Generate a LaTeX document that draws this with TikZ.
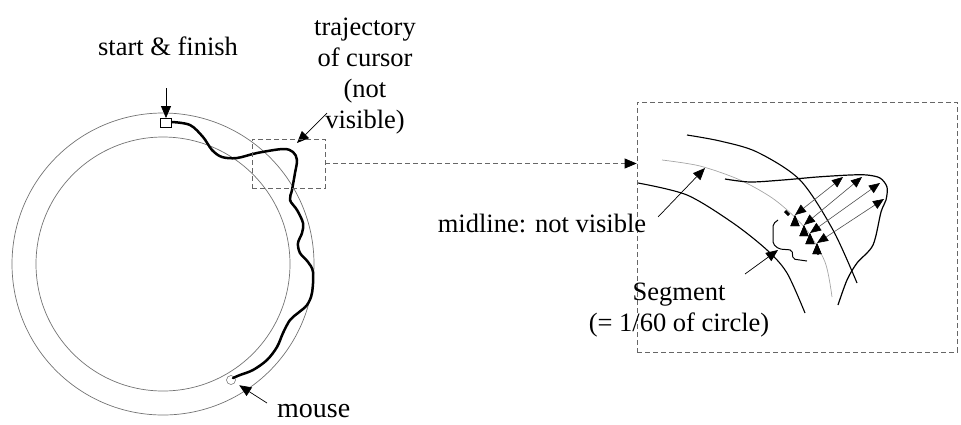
\documentclass[tikz,border=0pt]{standalone}
\usepackage{fontspec}
\setmainfont{Liberation Serif}
\usetikzlibrary{arrows.meta}

\tikzset{
  ring/.style={draw=black!55, line width=0.7pt},
  track/.style={line width=2.5pt, line join=round, line cap=round},
  thintrack/.style={line width=1.2pt, line join=round},
  arcline/.style={line width=1.1pt},
  midarc/.style={draw=black!35, line width=0.7pt},
  lbl/.style={font=\fontsize{26.5}{31}\selectfont, inner sep=0pt},
  pointer/.style={-{Triangle[length=12pt,width=10pt]}, line width=0.7pt},
  ray/.style={{Triangle[length=11pt,width=9pt,color=black]}-{Triangle[length=11pt,width=9pt,color=black]}, draw=black!70, line width=0.6pt},
  zoomframe/.style={draw=black!60, dash pattern=on 5pt off 3pt, line width=0.7pt},
}

\begin{document}
\begin{tikzpicture}[x=1pt,y=-1pt]
\useasboundingbox (0,0) rectangle (961,424);

% the ring on screen
\draw[ring] (163,264) circle[radius=151pt];
\draw[ring] (163,264) circle[radius=127pt];

\node[draw, line width=0.9pt, minimum width=11pt, minimum height=9pt, inner sep=0pt] (sq) at (166,123) {};
\node[draw=black!60, circle, minimum size=9pt, inner sep=0pt, line width=0.5pt] (mouse) at (231,380) {};

\draw[track] plot[smooth, tension=0.55] coordinates {(172,122) (190,125) (203,137) (212,150) (222,157) (237,158) (257,153) (283,149) (293,152) (297,160) (295,173) (292,190) (290,200) (297,210) (303,223) (302,233) (298,243) (300,253) (308,262) (313,272) (312,293) (307,305) (298,313) (290,320) (283,333) (277,347) (267,360) (253,370) (240,375) (233,378)};

\node[lbl, anchor=base] (sflbl) at (168,55) {start \& finish};
\coordinate (sftail) at (166,88);
\path[pointer] (sftail) edge (sq.north);

\node[lbl, align=center, anchor=north] (trajlbl) at (365,18) {trajectory\\of cursor\\(not\\visible)};
\coordinate (trajtail) at (327,113);
\coordinate (trajtip) at (297,143);
\path[pointer] (trajtail) edge (trajtip);

\node[lbl, font=\fontsize{28}{31}\selectfont, anchor=base west] (mouselbl) at (277,417) {mouse};
\coordinate (mousetail) at (267,403);
\path[pointer, shorten >=5pt] (mousetail) edge (mouse);

% zoomed part
\node[zoomframe, minimum width=73pt, minimum height=49pt, inner sep=0pt] (src) at (288.5,163.5) {};
\node[zoomframe, minimum width=320pt, minimum height=250pt, inner sep=0pt] (dst) at (797,227) {};
\coordinate (dstin) at (src.east -| dst.west);
\draw[zoomframe, -{Triangle[length=12pt,width=10pt,color=black]}] (src.east) -- (dstin);

\draw[arcline] plot[smooth] coordinates {(687,135) (720,141) (757,152) (800,180) (833,230) (857,283)};
\draw[midarc] plot[smooth] coordinates {(662,160) (700,166) (740,180) (775,200) (805,228) (825,262) (832,297)};
\draw[arcline] plot[smooth] coordinates {(638,183) (687,195) (733,223) (767,250) (787,273) (805,313)};

\draw[thintrack] plot[smooth, tension=0.5] coordinates {(725,179) (750,182) (783,180) (817,177) (850,175) (867,175) (880,178) (887,187) (886,200) (881,212) (873,245) (857,263) (847,280) (838,305)};

% segment ends
\draw[line width=3pt] (785,211) -- (789,215);
\draw[line width=3pt] (815,250) -- (819,254);

\coordinate (m1) at (795,215);
\coordinate (m2) at (804,225);
\coordinate (m3) at (810,233);
\coordinate (m4) at (817,243);
\coordinate (t1) at (843,177);
\coordinate (t2) at (862,177);
\coordinate (t3) at (880,183);
\coordinate (t4) at (884,199);
\path[ray] (m1) edge (t1);
\path[ray] (m2) edge (t2);
\path[ray] (m3) edge (t3);
\path[ray] (m4) edge (t4);

\draw[line width=1pt, rounded corners=2pt] (778,220) -- (773,224) -- (773,244) -- (779,249) -- (792,250) -- (793,259) -- (807,261);
\coordinate (nub) at (778,250);

\node[lbl, anchor=base] (midlbl) at (542,232) {midline: not visible};
\coordinate (midtail) at (658,217);
\coordinate (midtip) at (705,168);
\path[pointer] (midtail) edge (midtip);

\node[lbl, align=center, anchor=north] (seglbl) at (679,283) {Segment\\(= 1/60 of circle)};
\coordinate (segtail) at (745,274);
\path[pointer] (segtail) edge (nub);
\end{tikzpicture}
\end{document}
